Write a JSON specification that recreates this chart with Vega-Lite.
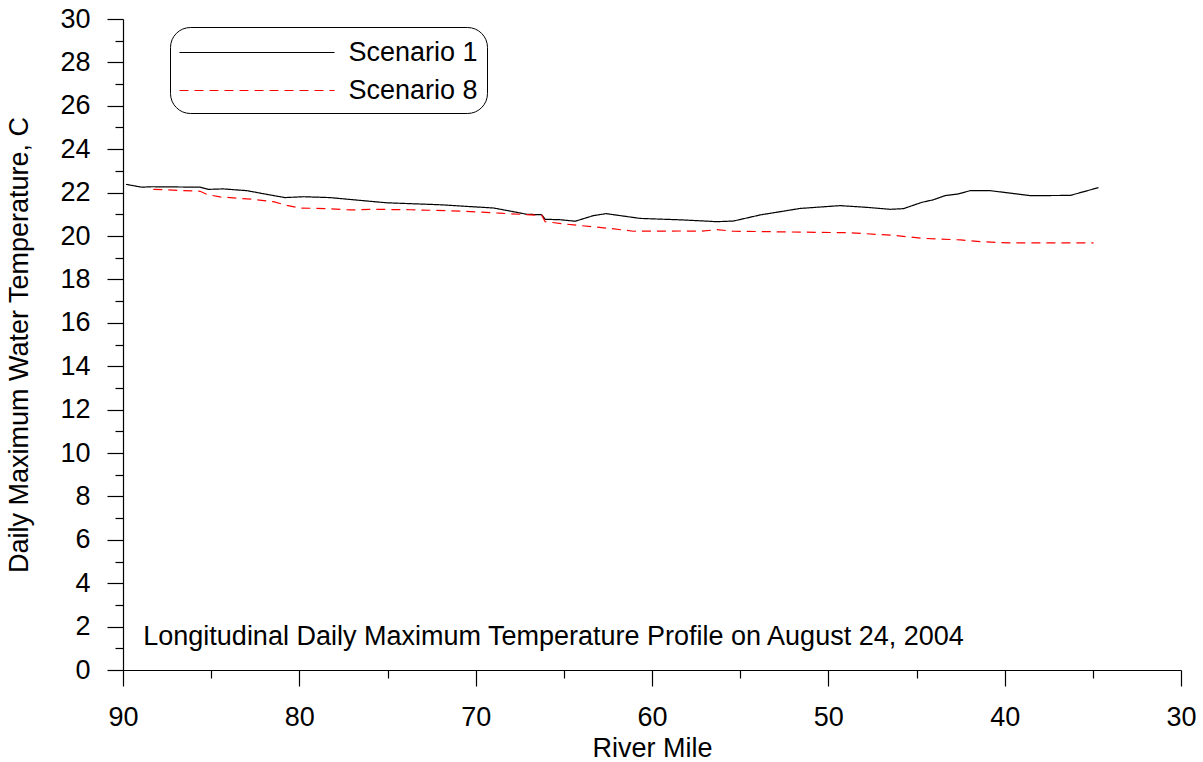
{
  "$schema": "https://vega.github.io/schema/vega-lite/v6.json",
  "width": 1058,
  "height": 651,
  "autosize": {"type": "none"},
  "padding": {"left": 123, "top": 19, "right": 22, "bottom": 92},
  "background": "white",
  "layer": [
    {
      "data": {
        "values": [
          {"scenario": "Scenario 1", "rm": 89.83, "temp": 22.38},
          {"scenario": "Scenario 1", "rm": 88.94, "temp": 22.25},
          {"scenario": "Scenario 1", "rm": 88.37, "temp": 22.27},
          {"scenario": "Scenario 1", "rm": 85.63, "temp": 22.25},
          {"scenario": "Scenario 1", "rm": 85.16, "temp": 22.15},
          {"scenario": "Scenario 1", "rm": 84.31, "temp": 22.17},
          {"scenario": "Scenario 1", "rm": 82.98, "temp": 22.09},
          {"scenario": "Scenario 1", "rm": 81.85, "temp": 21.92},
          {"scenario": "Scenario 1", "rm": 80.81, "temp": 21.77},
          {"scenario": "Scenario 1", "rm": 79.77, "temp": 21.81},
          {"scenario": "Scenario 1", "rm": 78.26, "temp": 21.77},
          {"scenario": "Scenario 1", "rm": 76.94, "temp": 21.67},
          {"scenario": "Scenario 1", "rm": 75.04, "temp": 21.53},
          {"scenario": "Scenario 1", "rm": 72.02, "temp": 21.44},
          {"scenario": "Scenario 1", "rm": 68.99, "temp": 21.29},
          {"scenario": "Scenario 1", "rm": 68.05, "temp": 21.15},
          {"scenario": "Scenario 1", "rm": 67.10, "temp": 21.0},
          {"scenario": "Scenario 1", "rm": 66.25, "temp": 20.98},
          {"scenario": "Scenario 1", "rm": 66.06, "temp": 20.77},
          {"scenario": "Scenario 1", "rm": 65.21, "temp": 20.75},
          {"scenario": "Scenario 1", "rm": 64.36, "temp": 20.68},
          {"scenario": "Scenario 1", "rm": 63.32, "temp": 20.94},
          {"scenario": "Scenario 1", "rm": 62.6, "temp": 21.03},
          {"scenario": "Scenario 1", "rm": 60.67, "temp": 20.81},
          {"scenario": "Scenario 1", "rm": 58.22, "temp": 20.74},
          {"scenario": "Scenario 1", "rm": 56.32, "temp": 20.66},
          {"scenario": "Scenario 1", "rm": 55.38, "temp": 20.69},
          {"scenario": "Scenario 1", "rm": 53.87, "temp": 20.97},
          {"scenario": "Scenario 1", "rm": 51.60, "temp": 21.27},
          {"scenario": "Scenario 1", "rm": 49.33, "temp": 21.40},
          {"scenario": "Scenario 1", "rm": 47.82, "temp": 21.32},
          {"scenario": "Scenario 1", "rm": 46.49, "temp": 21.23},
          {"scenario": "Scenario 1", "rm": 45.74, "temp": 21.26},
          {"scenario": "Scenario 1", "rm": 44.70, "temp": 21.55},
          {"scenario": "Scenario 1", "rm": 44.04, "temp": 21.67},
          {"scenario": "Scenario 1", "rm": 43.38, "temp": 21.86},
          {"scenario": "Scenario 1", "rm": 42.62, "temp": 21.94},
          {"scenario": "Scenario 1", "rm": 41.96, "temp": 22.09},
          {"scenario": "Scenario 1", "rm": 40.82, "temp": 22.09},
          {"scenario": "Scenario 1", "rm": 38.55, "temp": 21.86},
          {"scenario": "Scenario 1", "rm": 36.28, "temp": 21.87},
          {"scenario": "Scenario 1", "rm": 34.68, "temp": 22.23},
          {"scenario": "Scenario 8", "rm": 88.28, "temp": 22.15},
          {"scenario": "Scenario 8", "rm": 85.63, "temp": 22.06},
          {"scenario": "Scenario 8", "rm": 85.25, "temp": 21.92},
          {"scenario": "Scenario 8", "rm": 84.50, "temp": 21.80},
          {"scenario": "Scenario 8", "rm": 82.60, "temp": 21.69},
          {"scenario": "Scenario 8", "rm": 81.47, "temp": 21.58},
          {"scenario": "Scenario 8", "rm": 80.71, "temp": 21.41},
          {"scenario": "Scenario 8", "rm": 79.96, "temp": 21.29},
          {"scenario": "Scenario 8", "rm": 78.45, "temp": 21.26},
          {"scenario": "Scenario 8", "rm": 77.12, "temp": 21.20},
          {"scenario": "Scenario 8", "rm": 75.99, "temp": 21.23},
          {"scenario": "Scenario 8", "rm": 73.72, "temp": 21.21},
          {"scenario": "Scenario 8", "rm": 70.89, "temp": 21.15},
          {"scenario": "Scenario 8", "rm": 68.62, "temp": 21.05},
          {"scenario": "Scenario 8", "rm": 66.25, "temp": 20.95},
          {"scenario": "Scenario 8", "rm": 66.06, "temp": 20.66},
          {"scenario": "Scenario 8", "rm": 64.46, "temp": 20.51},
          {"scenario": "Scenario 8", "rm": 62.38, "temp": 20.35},
          {"scenario": "Scenario 8", "rm": 61.05, "temp": 20.22},
          {"scenario": "Scenario 8", "rm": 58.22, "temp": 20.23},
          {"scenario": "Scenario 8", "rm": 57.27, "temp": 20.22},
          {"scenario": "Scenario 8", "rm": 56.32, "temp": 20.29},
          {"scenario": "Scenario 8", "rm": 55.38, "temp": 20.22},
          {"scenario": "Scenario 8", "rm": 51.60, "temp": 20.18},
          {"scenario": "Scenario 8", "rm": 48.76, "temp": 20.15},
          {"scenario": "Scenario 8", "rm": 46.31, "temp": 20.03},
          {"scenario": "Scenario 8", "rm": 44.61, "temp": 19.89},
          {"scenario": "Scenario 8", "rm": 42.52, "temp": 19.82},
          {"scenario": "Scenario 8", "rm": 41.39, "temp": 19.74},
          {"scenario": "Scenario 8", "rm": 39.69, "temp": 19.68},
          {"scenario": "Scenario 8", "rm": 34.96, "temp": 19.68}
        ]
      },
      "mark": {"type": "line", "strokeWidth": 1.2},
      "encoding": {
        "x": {
          "field": "rm", "type": "quantitative",
          "scale": {"domain": [90, 30], "nice": false, "zero": false},
          "axis": {"values": [90, 80, 70, 60, 50, 40, 30], "tickSize": 16, "labelPadding": 18, "labelFlush": false, "title": "River Mile", "titlePadding": 5, "orient": "bottom"}
        },
        "y": {
          "field": "temp", "type": "quantitative",
          "scale": {"domain": [0, 30], "nice": false, "zero": false},
          "axis": {"values": [0, 2, 4, 6, 8, 10, 12, 14, 16, 18, 20, 22, 24, 26, 28, 30], "tickSize": 16, "labelPadding": 17, "labelFlush": false, "title": "Daily Maximum Water Temperature, C", "titlePadding": 26, "orient": "left"}
        },
        "color": {
          "field": "scenario", "type": "nominal",
          "scale": {"domain": ["Scenario 1", "Scenario 8"], "range": ["#000000", "#ff0000"]},
          "legend": {"orient": "none", "legendX": 47, "legendY": 8, "title": null, "strokeColor": "black", "cornerRadius": 20, "padding": 9, "fillColor": "white", "symbolType": "M-5,0H5", "symbolSize": 961, "symbolOffset": 61.5, "symbolStrokeWidth": 1.2, "labelFontSize": 27, "labelFont": "Liberation Sans", "labelColor": "black", "labelOffset": 75, "rowPadding": 8}
        },
        "strokeDash": {
          "field": "scenario", "type": "nominal",
          "scale": {"domain": ["Scenario 1", "Scenario 8"], "range": [[1, 0], [9, 6]]},
          "legend": {"orient": "none", "legendX": 47, "legendY": 8, "title": null, "strokeColor": "black", "cornerRadius": 20, "padding": 9, "fillColor": "white", "symbolType": "M-5,0H5", "symbolSize": 961, "symbolOffset": 61.5, "symbolStrokeWidth": 1.2, "labelFontSize": 27, "labelFont": "Liberation Sans", "labelColor": "black", "labelOffset": 75, "rowPadding": 8}
        }
      }
    },
    {
      "data": {"values": [{}]},
      "mark": {"type": "text", "text": "Longitudinal Daily Maximum Temperature Profile on August 24, 2004", "align": "left", "baseline": "middle", "fontSize": 27, "font": "Liberation Sans", "color": "black"},
      "encoding": {
        "x": {
          "datum": 88.85, "type": "quantitative",
          "scale": {"domain": [90, 30], "nice": false, "zero": false},
          "axis": {"values": [85, 75, 65, 55, 45, 35], "labels": false, "domain": false, "tickSize": 8, "title": null, "orient": "bottom"}
        },
        "y": {
          "datum": 1.5, "type": "quantitative",
          "scale": {"domain": [0, 30], "nice": false, "zero": false},
          "axis": {"values": [1, 3, 5, 7, 9, 11, 13, 15, 17, 19, 21, 23, 25, 27, 29], "labels": false, "domain": false, "tickSize": 8, "title": null, "orient": "left"}
        }
      }
    }
  ],
  "resolve": {"axis": {"x": "independent", "y": "independent"}},
  "config": {
    "view": {"stroke": null},
    "axis": {
      "grid": false,
      "labelFont": "Liberation Sans", "titleFont": "Liberation Sans",
      "labelFontSize": 27, "titleFontSize": 27,
      "labelColor": "black", "titleColor": "black",
      "labelFontWeight": "normal", "titleFontWeight": "normal",
      "domainColor": "black", "tickColor": "black",
      "domainWidth": 1.2, "tickWidth": 1.2
    }
  }
}
